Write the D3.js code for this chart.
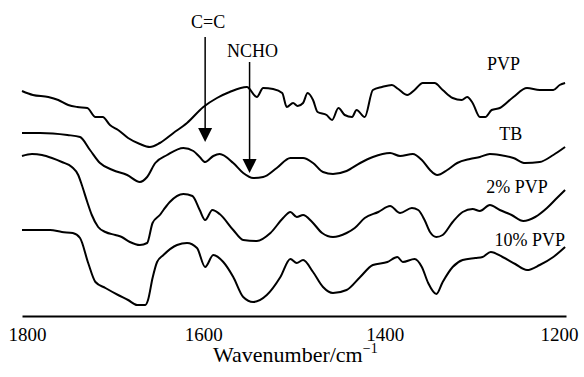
<!DOCTYPE html>
<html lang="en">
    <head>
        <meta charset="utf-8">
        <title>FTIR spectra</title>
        <script type="text/javascript" src="https://d3js.org/d3.v7.min.js"></script>
        <style type="text/css">
            body { margin: 0; background: #fff; }
            svg text { font-family: 'Liberation Serif', serif; fill: #000; }
        </style>
    </head>
    <body>
        <script type="text/javascript">

                const width = 584;
                const height = 377;

                // spectra: [wavenumber, offset transmittance (a.u.)]
                const pvp = [[1800,225],[1788,221],[1771,219],[1760,216],[1749,211],[1739,209],[1728,208],[1719,199],
                    [1711,199],[1703,191],[1694,186],[1683,178],[1670,172],[1659,169],[1648,173],[1633,183],[1618,193],
                    [1600,209],[1585,218],[1571,224],[1552,229],[1541,219],[1534,228],[1523,227],[1513,223],[1508,209],
                    [1501,213],[1496,210],[1490,213],[1485,223],[1479,216],[1474,204],[1464,201],[1458,196],[1451,208],
                    [1444,201],[1436,199],[1431,206],[1422,199],[1413,226],[1403,229],[1392,231],[1385,227],[1375,221],
                    [1367,226],[1358,233],[1345,233],[1336,226],[1325,218],[1315,216],[1309,219],[1303,213],[1295,199],
                    [1289,199],[1282,206],[1273,208],[1258,219],[1243,228],[1229,226],[1214,226],[1207,231],[1201,233]];

                const tb = [[1800,183],[1780,183],[1750,181],[1736,179],[1725,166],[1714,153],[1700,146],[1684,141],
                    [1670,134],[1662,139],[1653,153],[1640,161],[1622,168],[1611,165],[1604,159],[1598,154],[1589,160],
                    [1582,162],[1567,153],[1556,143],[1545,138],[1534,139],[1519,148],[1504,158],[1490,158],[1479,153],
                    [1468,144],[1457,142],[1442,145],[1427,153],[1413,159],[1394,163],[1383,160],[1369,162],[1359,156],
                    [1350,146],[1342,141],[1331,146],[1320,153],[1306,157],[1295,159],[1284,162],[1273,161],[1258,158],
                    [1245,153],[1229,154],[1214,161],[1201,169]];

                const pvp2 = [[1800,160],[1789,162],[1778,161],[1767,158],[1756,154],[1745,149],[1738,141],[1734,131],
                    [1728,114],[1723,101],[1716,89],[1708,84],[1697,81],[1690,79],[1681,74],[1670,71],[1662,73],
                    [1656,93],[1648,101],[1644,106],[1637,114],[1622,122],[1612,120],[1604,106],[1598,96],[1590,106],
                    [1582,102],[1567,86],[1556,76],[1541,75],[1526,83],[1512,98],[1504,104],[1497,99],[1490,101],
                    [1480,94],[1469,83],[1457,79],[1442,83],[1433,88],[1422,98],[1407,104],[1394,110],[1383,103],
                    [1370,108],[1363,106],[1356,96],[1350,84],[1343,79],[1336,81],[1325,94],[1314,104],[1303,107],
                    [1295,105],[1284,111],[1273,106],[1260,101],[1247,95],[1234,99],[1221,108],[1210,118],[1201,126]];

                const pvp10 = [[1800,86],[1769,86],[1756,84],[1744,83],[1736,78],[1727,53],[1719,34],[1708,28],
                    [1694,21],[1683,16],[1673,11],[1664,11],[1661,16],[1656,38],[1651,54],[1644,61],[1629,71],[1618,73],
                    [1607,68],[1598,49],[1589,61],[1578,54],[1567,39],[1556,19],[1545,14],[1530,21],[1515,39],
                    [1504,57],[1497,53],[1490,56],[1479,44],[1468,29],[1457,23],[1442,26],[1427,39],[1413,51],
                    [1397,54],[1386,59],[1380,54],[1367,57],[1359,49],[1352,33],[1343,22],[1336,34],[1325,49],
                    [1314,56],[1300,58],[1292,59],[1283,64],[1270,59],[1256,52],[1243,46],[1229,51],[1214,59],[1201,69]];

                const spectra = [pvp, tb, pvp2, pvp10];
                const seriesNames = ["PVP", "TB", "2% PVP", "10% PVP"];
                const nameAt = [[1269,246],[1261,176],[1254,123],[1240,70]];

                const xTicks = [1800, 1600, 1400, 1200];

                // arrows: label, wavenumber, label baseline, line start, tip
                const marks = ["C=C", "NCHO"];
                const markWn = [1598, 1549];
                const markLabel = [288, 259];
                const markTop = [279, 254];
                const markTip = [174, 143];

                const xScale = d3.scaleLinear()
                                 .domain([1800, 1200])
                                 .range([22, 566]);
                const yScale = d3.scaleLinear()
                                 .domain([0, 300])
                                 .range([316, 16]);

                const svg = d3.select("body")
                              .append("svg")
                              .attr("width", width)
                              .attr("height", height)
                              .attr("font-family", "'Liberation Serif', serif");

                const line = d3.line()
                               .x(d => xScale(d[0]))
                               .y(d => yScale(d[1]))
                               .curve(d3.curveMonotoneX);

                svg.selectAll("path.spec")
                    .data(spectra)
                    .enter()
                    .append("path")
                    .attr("class", "spec")
                    .attr("d", line)
                    .attr("fill", "none")
                    .attr("stroke", "#000")
                    .attr("stroke-width", 2)
                    .attr("stroke-linejoin", "round");

                svg.selectAll("text.name")
                    .data(seriesNames)
                    .enter()
                    .append("text")
                    .attr("class", "name")
                    .attr("x", (d, i) => xScale(nameAt[i][0]))
                    .attr("y", (d, i) => yScale(nameAt[i][1]))
                    .attr("text-anchor", "middle")
                    .attr("font-size", 18)
                    .text(d => d);

                // arrows
                marks.forEach(function(m, i) {
                    const x = xScale(markWn[i]);
                    const tip = yScale(markTip[i]);
                    svg.append("text")
                        .attr("x", x + 3)
                        .attr("y", yScale(markLabel[i]))
                        .attr("text-anchor", "middle")
                        .attr("font-size", 18)
                        .text(m);
                    svg.append("line")
                        .attr("x1", x).attr("x2", x)
                        .attr("y1", yScale(markTop[i]))
                        .attr("y2", tip - 12)
                        .attr("stroke", "#000")
                        .attr("stroke-width", 1.5);
                    svg.append("path")
                        .attr("d", "M" + (x - 7) + "," + (tip - 14) + "L" + (x + 7) + "," + (tip - 14) + "L" + x + "," + tip + "Z")
                        .attr("fill", "#000");
                });

                // bottom axis
                const bottomAxis = d3.axisBottom(xScale)
                                     .tickValues(xTicks)
                                     .tickSize(0)
                                     .tickSizeOuter(0)
                                     .tickPadding(12)
                                     .tickFormat(d3.format("d"));

                const ax = svg.append("g")
                              .attr("transform", "translate(0," + 316 + ")")
                              .call(bottomAxis)
                              .attr("font-family", "'Liberation Serif', serif");
                ax.select(".domain").attr("stroke", "#000").attr("stroke-width", 2);
                ax.selectAll(".tick text")
                  .attr("font-size", 19)
                  .attr("fill", "#000")
                  .attr("dx", d => d === 1800 ? 5 : (d === 1200 ? -7 : 0));

                const xl = svg.append("text")
                              .attr("x", 213)
                              .attr("y", 362)
                              .attr("font-size", 22);
                xl.append("tspan").text("Wavenumber/cm");
                xl.append("tspan").attr("dy", -9).attr("font-size", 14).text("\u22121");

        </script>
    </body>
</html>
